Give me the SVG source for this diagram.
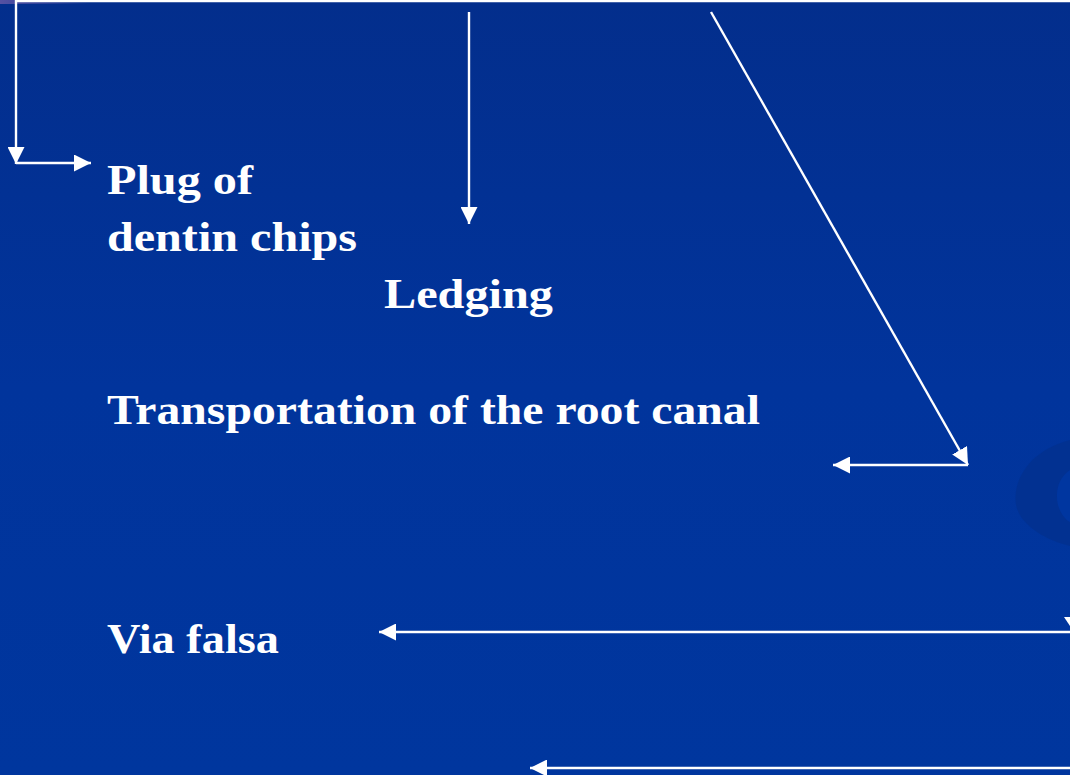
<svg xmlns="http://www.w3.org/2000/svg" width="1070" height="775" viewBox="0 0 1070 775">
<style>
.lbl{font-family:"Liberation Serif","Times New Roman",serif;font-weight:bold;font-size:42px;fill:#ffffff}
.c{stroke:#ffffff;stroke-width:2.4;fill:none}
.hd{fill:#ffffff;stroke:none}
</style>
<defs>
<linearGradient id="bg" x1="0" y1="0" x2="0" y2="1">
<stop offset="0" stop-color="#032e8c"/>
<stop offset="0.5" stop-color="#01349c"/>
<stop offset="1" stop-color="#00369e"/>
</linearGradient>
<linearGradient id="tl" x1="0" y1="0" x2="1" y2="0">
<stop offset="0" stop-color="#6a5aa8" stop-opacity="0.8"/>
<stop offset="1" stop-color="#6a5aa8" stop-opacity="0"/>
</linearGradient>
<marker id="ah" viewBox="0 0 16 16" refX="16" refY="8" markerWidth="17" markerHeight="17" markerUnits="userSpaceOnUse" orient="auto">
<path d="M0,0 L16,8 L0,16 Z" fill="#ffffff"/>
</marker>
</defs>
<rect width="1070" height="775" fill="url(#bg)"/>
<rect x="0" y="0" width="90" height="4" fill="url(#tl)"/>
<path d="M1070,440 C1030,450 1012,480 1016,505 C1020,525 1045,540 1070,546 Z" fill="#02318f" opacity="0.8"/>
<path d="M1070,470 C1058,478 1055,492 1058,505 C1061,515 1066,520 1070,522 Z" fill="#0036a0"/>
<g id="connectors">
<line class="c" x1="16" y1="1" x2="1070" y2="1" stroke-width="1.5"/>
<line class="c" x1="16" y1="0" x2="16" y2="164" marker-end="url(#ah)"/>
<line class="c" x1="16" y1="163" x2="91" y2="163" marker-end="url(#ah)"/>
<line class="c" x1="469" y1="12" x2="469" y2="224" marker-end="url(#ah)"/>
<line class="c" x1="711" y1="12" x2="968" y2="465" marker-end="url(#ah)"/>
<line class="c" x1="968" y1="465" x2="833" y2="465" marker-end="url(#ah)"/>
<line class="c" x1="1070" y1="632" x2="379" y2="632" marker-end="url(#ah)"/>
<path class="hd" d="M1064,617 L1070,617 L1070,626 Z"/>
<line class="c" x1="1070" y1="768" x2="530" y2="768" marker-end="url(#ah)"/>
</g>
<g id="plug"><text class="lbl" x="107" y="194" textLength="146" lengthAdjust="spacingAndGlyphs">Plug of</text>
<text class="lbl" x="107" y="251" textLength="250" lengthAdjust="spacingAndGlyphs">dentin chips</text></g>
<g id="ledging"><text class="lbl" x="384" y="308" textLength="169" lengthAdjust="spacingAndGlyphs">Ledging</text></g>
<g id="transportation"><text class="lbl" x="107" y="424" textLength="653" lengthAdjust="spacingAndGlyphs">Transportation of  the root canal</text></g>
<g id="viafalsa"><text class="lbl" x="107" y="653" textLength="172" lengthAdjust="spacingAndGlyphs">Via falsa</text></g>
</svg>
